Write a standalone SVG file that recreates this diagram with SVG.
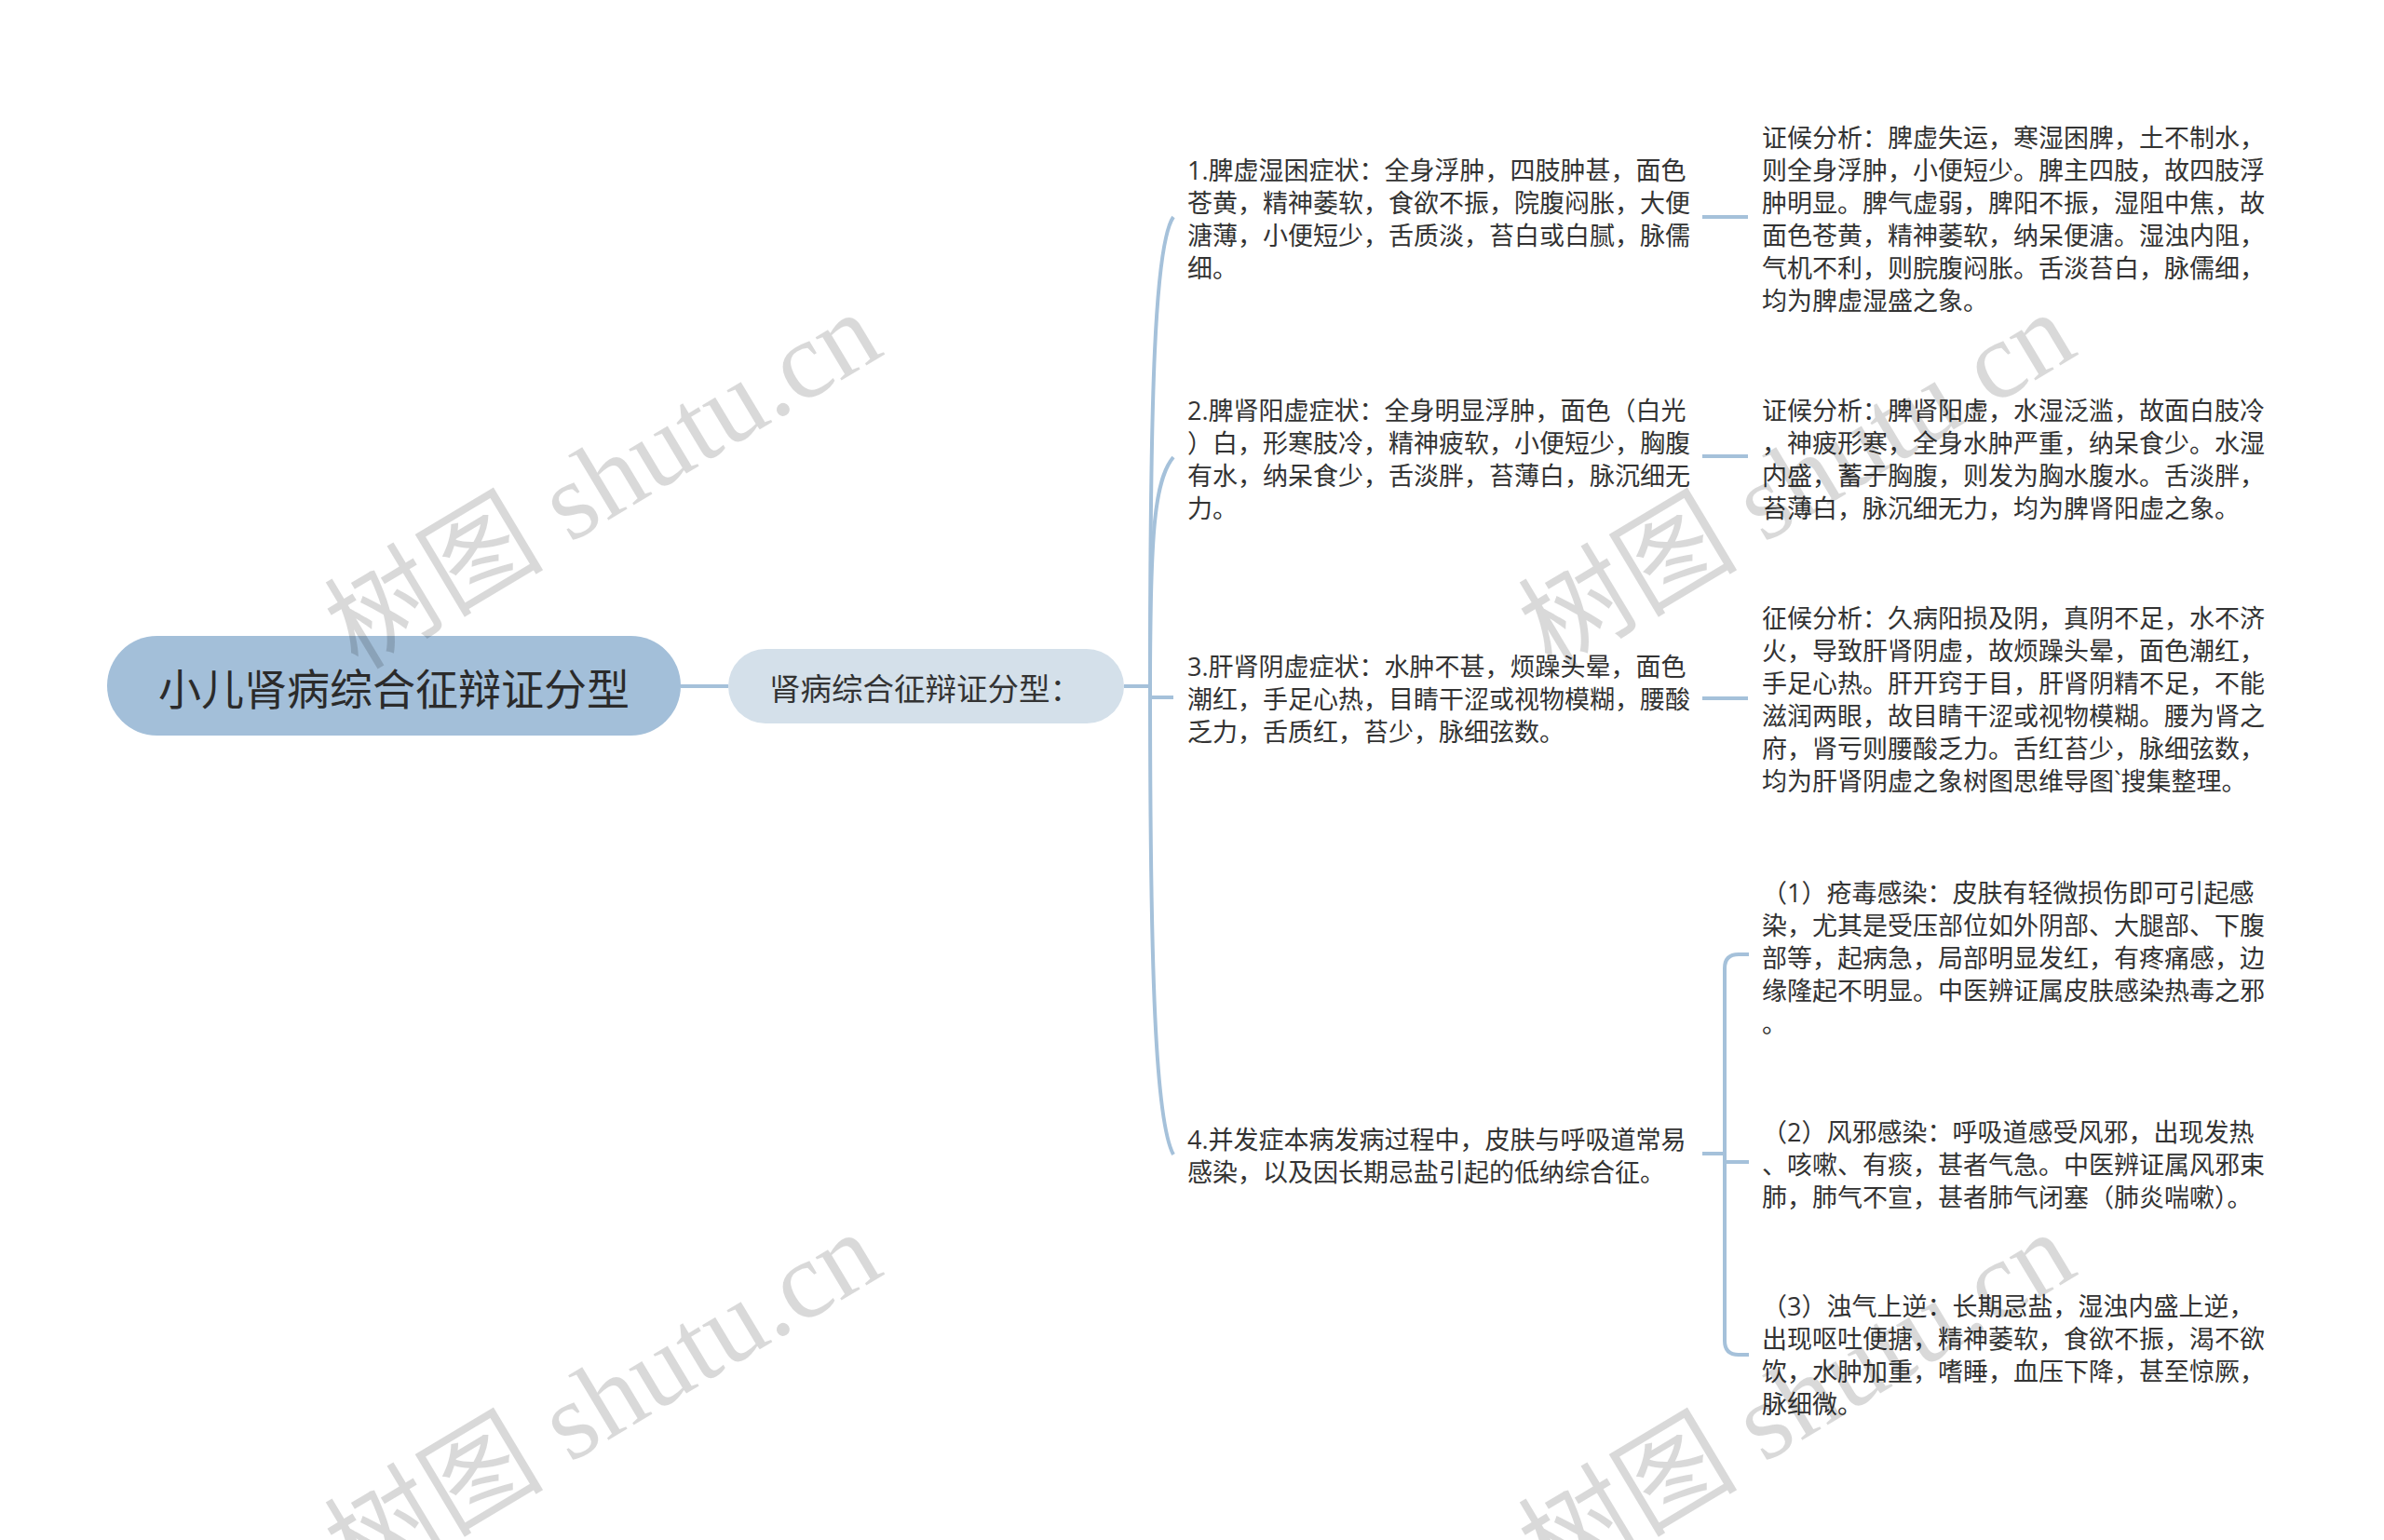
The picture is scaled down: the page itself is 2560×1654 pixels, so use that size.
<svg xmlns="http://www.w3.org/2000/svg" width="2560" height="1654" viewBox="0 0 2560 1654">
<style>
.t{font-family:"Open Sans","Noto Sans CJK SC",sans-serif;font-size:27px;fill:#333;dominant-baseline:central}
.c{fill:none;stroke:#a5c1da;stroke-width:4}
.wm{font-family:"Liberation Serif","Noto Sans CJK SC",serif;font-size:118px;fill:#000;fill-opacity:0.15;text-anchor:middle}
</style>
<rect width="2560" height="1654" fill="#fff"/>
<g id="connectors">
<path class="c" d="M731,737 H782"/>
<path class="c" d="M1207,737 H1235"/>
<path class="c" d="M1235,737 C1235,420 1240,262 1260,233"/>
<path class="c" d="M1235,737 C1235,570 1240,515 1260,491"/>
<path class="c" d="M1235,749 H1260"/>
<path class="c" d="M1235,737 C1235,1050 1241,1205 1260,1240"/>
<path class="c" d="M1828,233 H1877"/>
<path class="c" d="M1828,490 H1877"/>
<path class="c" d="M1828,750 H1877"/>
<path class="c" d="M1828,1239 H1852"/>
<path class="c" d="M1878,1025 H1867 Q1852,1025 1852,1040 V1440 Q1852,1455 1867,1455 H1878"/>
<path class="c" d="M1852,1248 H1878"/>
</g>
<g id="root">
<rect x="115" y="683" width="616" height="107" rx="53.5" fill="#a3bfd9"/>
<text x="170" y="737" style="font-family:'Noto Sans CJK SC',sans-serif;font-size:46px;fill:#2b2b2b;dominant-baseline:central">小儿肾病综合征辩证分型</text>
</g>
<g id="sub">
<rect x="782" y="697" width="425" height="80" rx="40" fill="#d4e0ea"/>
<text x="826" y="737" style="font-family:'Noto Sans CJK SC',sans-serif;font-size:33.5px;fill:#333;dominant-baseline:central">肾病综合征辩证分型：</text>
</g>
<g id="n1">
<text class="t"><tspan x="1275" y="182">1.脾虚湿困症状：全身浮肿，四肢肿甚，面色</tspan><tspan x="1275" y="217">苍黄，精神萎软，食欲不振，院腹闷胀，大便</tspan><tspan x="1275" y="252">溏薄，小便短少，舌质淡，苔白或白腻，脉儒</tspan><tspan x="1275" y="287">细。</tspan></text>
</g>
<g id="n2">
<text class="t"><tspan x="1275" y="440">2.脾肾阳虚症状：全身明显浮肿，面色（白光</tspan><tspan x="1275" y="475">）白，形寒肢冷，精神疲软，小便短少，胸腹</tspan><tspan x="1275" y="510">有水，纳呆食少，舌淡胖，苔薄白，脉沉细无</tspan><tspan x="1275" y="545">力。</tspan></text>
</g>
<g id="n3">
<text class="t"><tspan x="1275" y="715">3.肝肾阴虚症状：水肿不甚，烦躁头晕，面色</tspan><tspan x="1275" y="750">潮红，手足心热，目睛干涩或视物模糊，腰酸</tspan><tspan x="1275" y="785">乏力，舌质红，苔少，脉细弦数。</tspan></text>
</g>
<g id="n4">
<text class="t"><tspan x="1275" y="1223">4.并发症本病发病过程中，皮肤与呼吸道常易</tspan><tspan x="1275" y="1258">感染，以及因长期忌盐引起的低纳综合征。</tspan></text>
</g>
<g id="r1">
<text class="t"><tspan x="1892" y="147">证候分析：脾虚失运，寒湿困脾，土不制水，</tspan><tspan x="1892" y="182">则全身浮肿，小便短少。脾主四肢，故四肢浮</tspan><tspan x="1892" y="217">肿明显。脾气虚弱，脾阳不振，湿阻中焦，故</tspan><tspan x="1892" y="252">面色苍黄，精神萎软，纳呆便溏。湿浊内阻，</tspan><tspan x="1892" y="287">气机不利，则脘腹闷胀。舌淡苔白，脉儒细，</tspan><tspan x="1892" y="322">均为脾虚湿盛之象。</tspan></text>
</g>
<g id="r2">
<text class="t"><tspan x="1892" y="440">证候分析：脾肾阳虚，水湿泛滥，故面白肢冷</tspan><tspan x="1892" y="475">，神疲形寒，全身水肿严重，纳呆食少。水湿</tspan><tspan x="1892" y="510">内盛，蓄于胸腹，则发为胸水腹水。舌淡胖，</tspan><tspan x="1892" y="545">苔薄白，脉沉细无力，均为脾肾阳虚之象。</tspan></text>
</g>
<g id="r3">
<text class="t"><tspan x="1892" y="663">征候分析：久病阳损及阴，真阴不足，水不济</tspan><tspan x="1892" y="698">火，导致肝肾阴虚，故烦躁头晕，面色潮红，</tspan><tspan x="1892" y="733">手足心热。肝开窍于目，肝肾阴精不足，不能</tspan><tspan x="1892" y="768">滋润两眼，故目睛干涩或视物模糊。腰为肾之</tspan><tspan x="1892" y="803">府，肾亏则腰酸乏力。舌红苔少，脉细弦数，</tspan><tspan x="1892" y="838">均为肝肾阴虚之象树图思维导图`搜集整理。</tspan></text>
</g>
<g id="r4a">
<text class="t"><tspan x="1892" y="958">（1）疮毒感染：皮肤有轻微损伤即可引起感</tspan><tspan x="1892" y="993">染，尤其是受压部位如外阴部、大腿部、下腹</tspan><tspan x="1892" y="1028">部等，起病急，局部明显发红，有疼痛感，边</tspan><tspan x="1892" y="1063">缘隆起不明显。中医辨证属皮肤感染热毒之邪</tspan><tspan x="1892" y="1098">。</tspan></text>
</g>
<g id="r4b">
<text class="t"><tspan x="1892" y="1215">（2）风邪感染：呼吸道感受风邪，出现发热</tspan><tspan x="1892" y="1250">、咳嗽、有痰，甚者气急。中医辨证属风邪束</tspan><tspan x="1892" y="1285">肺，肺气不宣，甚者肺气闭塞（肺炎喘嗽）。</tspan></text>
</g>
<g id="r4c">
<text class="t"><tspan x="1892" y="1402">（3）浊气上逆：长期忌盐，湿浊内盛上逆，</tspan><tspan x="1892" y="1437">出现呕吐便搪，精神萎软，食欲不振，渴不欲</tspan><tspan x="1892" y="1472">饮，水肿加重，嗜睡，血压下降，甚至惊厥，</tspan><tspan x="1892" y="1507">脉细微。</tspan></text>
</g>
<g id="watermarks">
<text class="wm" transform="translate(668,550) rotate(-31)">树图 shutu.cn</text>
<text class="wm" transform="translate(1950,550) rotate(-31)">树图 shutu.cn</text>
<text class="wm" transform="translate(668,1538) rotate(-31)">树图 shutu.cn</text>
<text class="wm" transform="translate(1950,1538) rotate(-31)">树图 shutu.cn</text>
</g>
</svg>
